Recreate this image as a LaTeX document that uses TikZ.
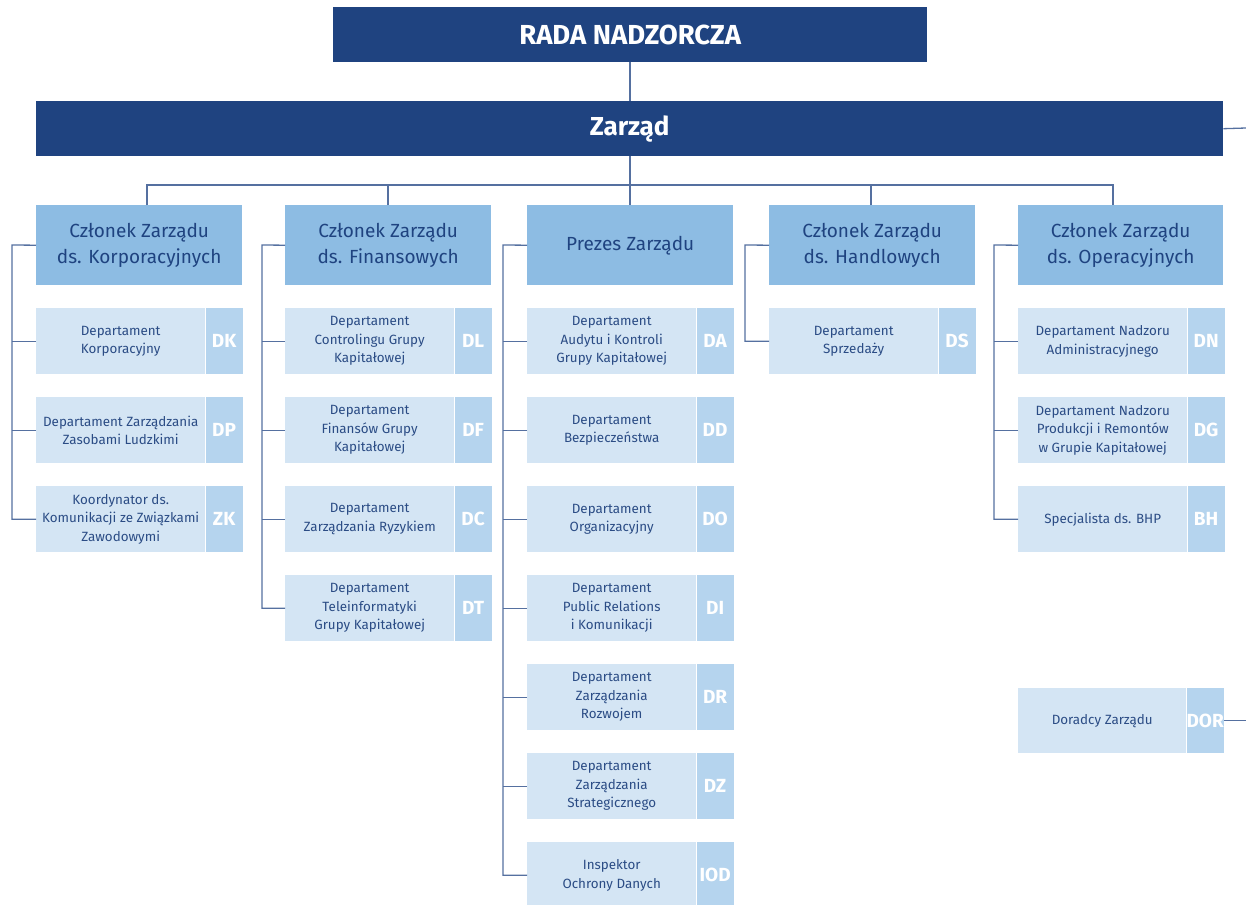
\documentclass[tikz,border=0pt]{standalone}
\usepackage{fontspec}
\setmainfont{Fira Sans}
\usetikzlibrary{calc}
\definecolor{navy}{HTML}{1F4380}
\definecolor{midblue}{HTML}{8DBCE3}
\definecolor{lightblue}{HTML}{D4E5F4}
\definecolor{codeblue}{HTML}{B5D4EE}
\definecolor{txtblue}{HTML}{2B4C85}
\definecolor{linecol}{HTML}{5570A0}
\tikzset{
  topbox/.style={fill=navy, draw=none, text=white, font=\bfseries\fontsize{26}{30}\selectfont, inner sep=0pt, anchor=north west},
  lvlbox/.style={fill=midblue, draw=none, text=navy, font=\fontsize{19}{26}\selectfont, align=center, inner sep=0pt, minimum width=206pt, minimum height=80pt, anchor=north west},
  deptbody/.style={fill=lightblue, draw=none, text=txtblue, font=\fontsize{13.4}{18.5}\selectfont, align=center, inner sep=0pt, minimum width=169pt, minimum height=66pt, anchor=north west},
  codebox/.style={fill=codeblue, draw=none, text=white, font=\bfseries\fontsize{19}{19}\selectfont, inner sep=0pt, minimum width=37pt, minimum height=66pt, anchor=north west},
  conn/.style={draw=linecol, line width=1.3pt}
}
\newcommand\deptbox[5]{%
  \node[deptbody] (#1) at (#2,#3) {#4};
  \node[codebox] (#1c) at (#1.north east) {#5};
}
\begin{document}
\begin{tikzpicture}[x=1pt,y=-1pt]
\useasboundingbox (0,0) rectangle (1246,904);
% top level
\node[topbox, minimum width=594pt, minimum height=55pt, font=\bfseries\fontsize{27.5}{30}\selectfont] (rada) at (333,7) {RADA NADZORCZA};
\node[topbox, minimum width=1187pt, minimum height=55pt] (zarzad) at (36,101) {Zarząd};
\coordinate (zr) at (1246,128);
\coordinate (bus) at (630,185);
\coordinate (b1) at (147,185);
\coordinate (b2) at (388,185);
\coordinate (b4) at (871,185);
\coordinate (b5) at (1113,185);
% level 2
\node[lvlbox] (ck) at (36,205) {Członek Zarządu\\ds. Korporacyjnych};
\node[lvlbox] (cf) at (285,205) {Członek Zarządu\\ds. Finansowych};
\node[lvlbox] (pz) at (527,205) {Prezes Zarządu};
\node[lvlbox] (ch) at (769,205) {Członek Zarządu\\ds. Handlowych};
\node[lvlbox, minimum width=205pt] (co) at (1018,205) {Członek Zarządu\\ds. Operacyjnych};
% col 1
\deptbox{dk}{36}{308}{Departament\\Korporacyjny}{DK}
\deptbox{dp}{36}{397}{Departament Zarządzania\\Zasobami Ludzkimi}{DP}
\deptbox{zk}{36}{486}{Koordynator ds.\\Komunikacji ze Związkami\\Zawodowymi}{ZK}
% col 2
\deptbox{dl}{285}{308}{Departament\\Controlingu Grupy\\Kapitałowej}{DL}
\deptbox{df}{285}{397}{Departament\\Finansów Grupy\\Kapitałowej}{DF}
\deptbox{dc}{285}{486}{Departament\\Zarządzania Ryzykiem}{DC}
\deptbox{dt}{285}{575}{Departament\\Teleinformatyki\\Grupy Kapitałowej}{DT}
% col 3
\deptbox{da}{527}{308}{Departament\\Audytu i Kontroli\\Grupy Kapitałowej}{DA}
\deptbox{dd}{527}{397}{Departament\\Bezpieczeństwa}{DD}
\deptbox{do}{527}{486}{Departament\\Organizacyjny}{DO}
\deptbox{di}{527}{575}{Departament\\Public Relations\\i Komunikacji}{DI}
\deptbox{dr}{527}{664}{Departament\\Zarządzania\\Rozwojem}{DR}
\deptbox{dz}{527}{753}{Departament\\Zarządzania\\Strategicznego}{DZ}
\deptbox{iod}{527}{842}{Inspektor\\Ochrony Danych}{IOD}
% col 4
\deptbox{ds}{769}{308}{Departament\\Sprzedaży}{DS}
% col 5
\deptbox{dn}{1018}{308}{Departament Nadzoru\\Administracyjnego}{DN}
\deptbox{dg}{1018}{397}{Departament Nadzoru\\Produkcji i Remontów\\w Grupie Kapitałowej}{DG}
\deptbox{bh}{1018}{486}{Specjalista ds. BHP}{BH}
\node[deptbody, minimum width=168pt, minimum height=65pt] (dor) at (1018,688) {Doradcy Zarządu};
\node[codebox, minimum height=65pt] (dorc) at (dor.north east) {DOR};
% connectors top
\draw[conn] (rada.south -| bus) -- (zarzad.north -| bus);
\draw[conn] (zarzad.east) -- (zr);
\draw[conn] (zarzad.south -| bus) -- (bus);
\draw[conn] (ck.north -| b1) -- (b1) -- (b5) -- (co.north -| b5);
\draw[conn] (cf.north -| b2) -- (b2);
\draw[conn] (bus) -- (pz.north -| bus);
\draw[conn] (ch.north -| b4) -- (b4);
% spines
\coordinate (s1) at (12,245);
\coordinate (s2) at (262,245);
\coordinate (s3) at (503,245);
\coordinate (s4) at (745,245);
\coordinate (s5) at (994,245);
\draw[conn] (ck.west) -- (s1) |- (zk.west);
\draw[conn] (dk.west) -- (dk.west -| s1);
\draw[conn] (dp.west) -- (dp.west -| s1);
\draw[conn] (cf.west) -- (s2) |- (dt.west);
\draw[conn] (dl.west) -- (dl.west -| s2);
\draw[conn] (df.west) -- (df.west -| s2);
\draw[conn] (dc.west) -- (dc.west -| s2);
\draw[conn] (pz.west) -- (s3) |- (iod.west);
\foreach \n in {da,dd,do,di,dr,dz}{\draw[conn] (\n.west) -- (\n.west -| s3);}
\draw[conn] (ch.west) -- (s4) |- (ds.west);
\draw[conn] (co.west) -- (s5) |- (bh.west);
\draw[conn] (dn.west) -- (dn.west -| s5);
\draw[conn] (dg.west) -- (dg.west -| s5);
\draw[conn] (dorc.east) -- (dorc.east -| zr);
\end{tikzpicture}
\end{document}
